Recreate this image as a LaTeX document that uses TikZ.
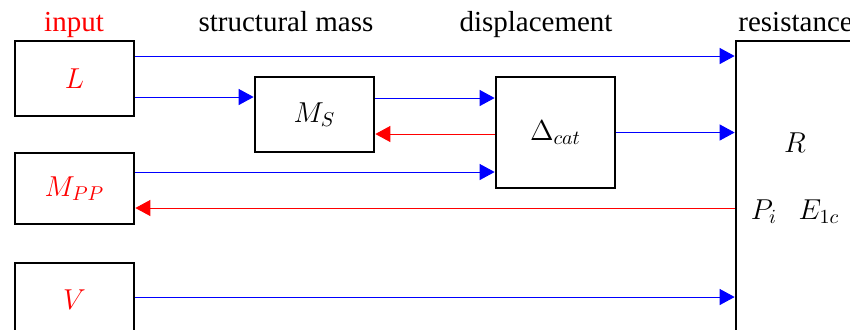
\documentclass[tikz,border=0pt]{standalone}
\usepackage{fontspec}
\setmainfont{Liberation Serif}
\usetikzlibrary{positioning, arrows.meta}

\begin{document}
\begin{tikzpicture}[x=0.5pt, y=-0.5pt,
  every node/.style={font=\fontsize{14.5}{17}\selectfont},
  block/.style={draw, line width=1.35pt, minimum width=59.5pt, inner sep=0pt},
  head/.style={anchor=base, inner sep=0pt},
  barrow/.style={draw=blue, line width=0.5pt, -{Triangle[length=7.5pt, width=8pt]}},
  rarrow/.style={draw=red, line width=0.5pt, -{Triangle[length=7.5pt, width=8pt]}}
]
\clip (0,0) rectangle (850,329);
% column titles
\node[head, text=red] (tin) at (74,31) {input};
\node[head] (tmass) at (286,31) {structural mass};
\node[head] (tdisp) at (536,31) {displacement};
\node[head, anchor=base west] (tres) at (738,31) {resistance};
% blocks
\node[block, minimum height=37.5pt, text=red] (L) at (74.5,78.5) {$L$};
\node[block, minimum height=35.5pt, text=red] (MPP) at (74.5,188.5) {$M_{PP}$};
\node[block, minimum height=37pt, text=red] (V) at (74.5,300) {$V$};
\node[block, minimum height=37.5pt] (MS) at (314.5,114.5) {$M_S$};
\node[block, minimum height=55.5pt] (Dcat) at (555.5,132.5) {$\Delta_{cat}$};
\node[block, minimum height=179.5pt] (R) at (795.5,220.5) {};
\node[head] (Rsym) at (795,152) {$R$};
\node[head] (Rpar) at (795,219) {$P_i\hspace{0.75em}E_{1c}$};
% connectors
\draw[barrow] ([yshift=11.25pt]L.east) coordinate (l1) -- (l1 -| R.west);
\draw[barrow] ([yshift=-9.25pt]L.east) coordinate (l2) -- (l2 -| MS.west);
\draw[barrow] ([yshift=8.25pt]MS.east) coordinate (s1) -- (s1 -| Dcat.west);
\draw[rarrow] ([yshift=-0.75pt]Dcat.west) coordinate (d1) -- (d1 -| MS.east);
\draw[barrow] ([yshift=8.25pt]MPP.east) coordinate (m1) -- (m1 -| Dcat.west);
\draw[barrow] (Dcat.east) -- (Dcat.east -| R.west);
\coordinate (m2) at ([yshift=-9.75pt]MPP.east);
\draw[rarrow] (m2 -| R.west) -- (m2);
\draw[barrow] ([yshift=1.5pt]V.east) coordinate (v1) -- (v1 -| R.west);
\end{tikzpicture}
\end{document}
